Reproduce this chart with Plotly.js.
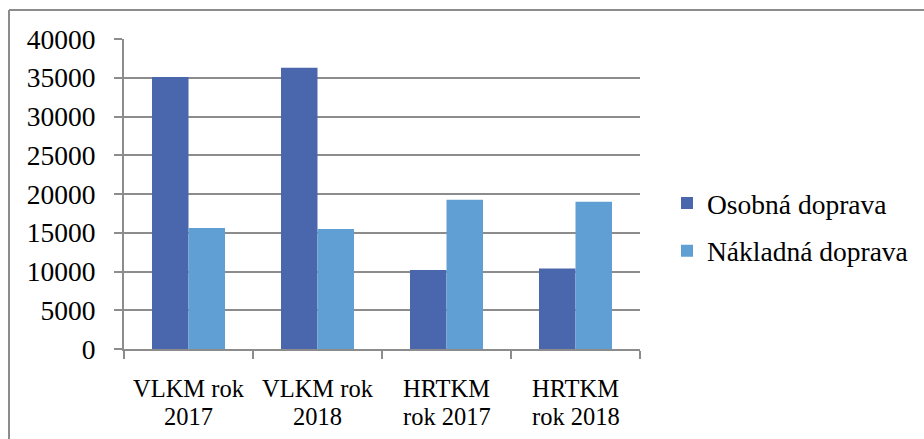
<!DOCTYPE html>
<html>
<head>
<meta charset="utf-8">
<script src="https://cdn.plot.ly/plotly-3.0.1.min.js"></script>
<style>body{margin:0;padding:0;background:#fff;}#chart{width:924px;height:439px;}</style>
</head>
<body>
<div id="chart"></div>
<script>
const categories = ["VLKM rok 2017", "VLKM rok 2018", "HRTKM rok 2017", "HRTKM rok 2018"];
const labelLine1 = ["VLKM rok", "VLKM rok", "HRTKM", "HRTKM"];
const labelLine2 = ["2017", "2018", "rok 2017", "rok 2018"];
const osobna = [35100, 36300, 10200, 10400];
const nakladna = [15600, 15500, 19250, 19000];
const seriesNames = ["Osobná doprava", "Nákladná doprava"];
const tickVals = [0, 5000, 10000, 15000, 20000, 25000, 30000, 35000, 40000];

const W = 924, H = 439, L = 124, R = 640, T = 39, B = 349;
const px = x => (x - L) / (R - L);
const py = y => (B - y) / (B - T);

const font = {family: "Liberation Serif, Times New Roman, serif", size: 27.5, color: "#000"};
const xfont = {family: "Liberation Serif, Times New Roman, serif", size: 24.5, color: "#000"};

const data = [
  {type: "bar", name: seriesNames[0], legendgroup: "a", x: categories, y: osobna, marker: {color: "#4A66AC"}},
  {type: "bar", name: seriesNames[1], legendgroup: "b", x: categories, y: nakladna, marker: {color: "#5F9FD3"}}
];

const annotations = [];
categories.forEach((c, i) => {
  annotations.push({xref: "x", yref: "paper", x: c, y: py(388), text: labelLine1[i], showarrow: false,
                    xanchor: "center", yanchor: "middle", font: xfont});
  annotations.push({xref: "x", yref: "paper", x: c, y: py(416), text: labelLine2[i], showarrow: false,
                    xanchor: "center", yanchor: "middle", font: xfont});
});

const layout = {
  width: W, height: H,
  margin: {l: L, r: W - R, t: T, b: H - B, pad: 0, autoexpand: false},
  paper_bgcolor: "#fff", plot_bgcolor: "#fff",
  font: font,
  barmode: "group", bargap: 0.434, bargroupgap: 0,
  showlegend: true,
  legend: {x: px(667), y: py(227), xanchor: "left", yanchor: "middle", font: font,
           tracegroupgap: 9, bgcolor: "rgba(0,0,0,0)"},
  xaxis: {type: "category", showgrid: false, showline: true, linecolor: "#8c8c8c", linewidth: 2,
          ticks: "outside", tickson: "boundaries", ticklen: 8, tickcolor: "#8c8c8c", tickwidth: 2,
          showticklabels: false, fixedrange: true},
  yaxis: {range: [0, 40000], tickvals: tickVals, ticktext: tickVals.map(String),
          showgrid: true, gridcolor: "#8c8c8c", gridwidth: 2, zeroline: false,
          showline: true, linecolor: "#8c8c8c", linewidth: 2,
          ticks: "outside", ticklen: 8, tickcolor: "#8c8c8c", tickwidth: 2,
          ticklabelstandoff: 13, tickfont: font, fixedrange: true},
  annotations: annotations,
  shapes: [
    {type: "line", xref: "paper", yref: "paper", x0: px(9), x1: px(W + 20), y0: py(10), y1: py(10),
     line: {color: "#8c8c8c", width: 2}},
    {type: "line", xref: "paper", yref: "paper", x0: px(9), x1: px(9), y0: py(10), y1: py(H + 20),
     line: {color: "#8c8c8c", width: 2}}
  ]
};

Plotly.newPlot("chart", data, layout, {displayModeBar: false, staticPlot: true});
</script>
</body>
</html>
